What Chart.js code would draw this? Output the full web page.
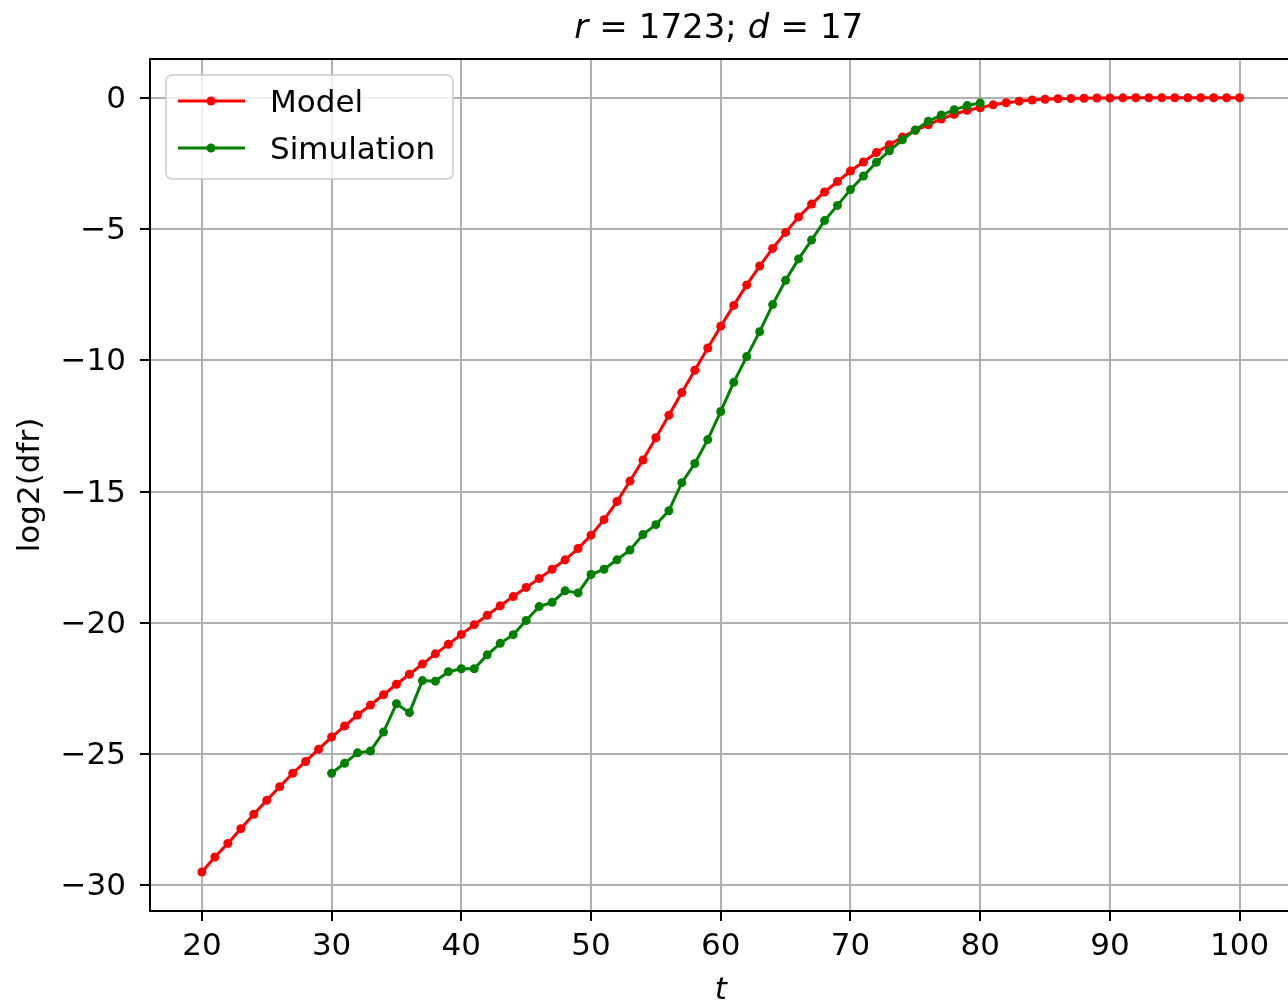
<!DOCTYPE html>
<html>
<head>
<meta charset="utf-8">
<title>log2(dfr) vs t</title>
<script src="https://cdn.jsdelivr.net/npm/chart.js@4.4.1/dist/chart.umd.min.js"></script>
<style>
  html, body { margin: 0; padding: 0; background: #fff; overflow: hidden; }
  canvas { display: block; }
</style>
</head>
<body>
<canvas id="dfrChart" width="1296" height="1006"></canvas>
<script>
// ---------- data ----------
const tModel = [20, 21, 22, 23, 24, 25, 26, 27, 28, 29,
                30, 31, 32, 33, 34, 35, 36, 37, 38, 39,
                40, 41, 42, 43, 44, 45, 46, 47, 48, 49,
                50, 51, 52, 53, 54, 55, 56, 57, 58, 59,
                60, 61, 62, 63, 64, 65, 66, 67, 68, 69,
                70, 71, 72, 73, 74, 75, 76, 77, 78, 79,
                80, 81, 82, 83, 84, 85, 86, 87, 88, 89,
                90, 91, 92, 93, 94, 95, 96, 97, 98, 99, 100];
const model = [-29.49, -28.92, -28.40, -27.84, -27.29, -26.76, -26.24, -25.73, -25.28, -24.81,
               -24.35, -23.93, -23.51, -23.13, -22.74, -22.34, -21.96, -21.57, -21.18, -20.82,
               -20.44, -20.07, -19.71, -19.35, -19.00, -18.65, -18.31, -17.96, -17.60, -17.17,
               -16.66, -16.07, -15.38, -14.60, -13.80, -12.95, -12.09, -11.23, -10.38, -9.53,
               -8.70, -7.91, -7.13, -6.41, -5.74, -5.13, -4.54, -4.05, -3.59, -3.19,
               -2.79, -2.45, -2.09, -1.79, -1.50, -1.24, -1.03, -0.81, -0.63, -0.48,
               -0.38, -0.27, -0.19, -0.13, -0.09, -0.06, -0.04, -0.03, -0.02, -0.01,
               -0.01, -0.005, 0, 0, 0, 0, 0, 0, 0, 0, 0];

const tSim = [30, 31, 32, 33, 34, 35, 36, 37, 38, 39,
              40, 41, 42, 43, 44, 45, 46, 47, 48, 49,
              50, 51, 52, 53, 54, 55, 56, 57, 58, 59,
              60, 61, 62, 63, 64, 65, 66, 67, 68, 69,
              70, 71, 72, 73, 74, 75, 76, 77, 78, 79, 80];
const sim = [-25.73, -25.35, -24.95, -24.88, -24.16, -23.08, -23.42, -22.20, -22.22, -21.86,
             -21.75, -21.75, -21.22, -20.78, -20.45, -19.91, -19.38, -19.22, -18.78, -18.86,
             -18.16, -17.96, -17.60, -17.23, -16.64, -16.26, -15.73, -14.66, -13.93, -13.02,
             -11.95, -10.84, -9.86, -8.91, -7.88, -6.95, -6.14, -5.42, -4.68, -4.10,
             -3.50, -2.98, -2.46, -2.02, -1.60, -1.23, -0.90, -0.66, -0.46, -0.30, -0.20];

const xTicks = [20, 30, 40, 50, 60, 70, 80, 90, 100];
const yTicks = [-30, -25, -20, -15, -10, -5, 0];

// title pieces, italic ones are the math variables
const titleParts = [
    { text: "r", italic: true },
    { text: "=", italic: false },
    { text: "1723;", italic: false },
    { text: "d", italic: true },
    { text: "=", italic: false },
    { text: "17", italic: false }
];

const FONT = "DejaVu Sans";
Chart.defaults.font.family = FONT;
Chart.defaults.color = "#000";

const toPoints = (xs, ys) => xs.map((x, i) => ({ x: x, y: ys[i] }));

// =========================
// PLUGINS
// =========================

// top + right spines (left/bottom come from the axis borders)
const frame = {
    id: "frame",
    afterDraw(chart) {
        const { ctx, chartArea: a } = chart;
        ctx.save();
        ctx.strokeStyle = "#000";
        ctx.lineWidth = 2;
        ctx.beginPath();
        ctx.moveTo(a.left - 1, a.top);
        ctx.lineTo(a.right, a.top);
        ctx.lineTo(a.right, a.bottom + 1);
        ctx.stroke();
        ctx.restore();
    }
};

// legend box in the upper-left corner of the plot
const legendBox = {
    id: "legendBox",
    afterDatasetsDraw(chart) {
        const { ctx, chartArea: a } = chart;
        const x0 = a.left + 16, y0 = a.top + 16;
        const w = 287, h = 104, r = 6;

        ctx.save();
        ctx.beginPath();
        ctx.roundRect(x0, y0, w, h, r);
        ctx.fillStyle = "rgba(255,255,255,0.8)";
        ctx.fill();
        ctx.strokeStyle = "rgba(204,204,204,0.8)";
        ctx.lineWidth = 2;
        ctx.stroke();

        chart.data.datasets.forEach((ds, i) => {
            const y = y0 + 26 + i * 47;
            ctx.strokeStyle = ds.borderColor;
            ctx.lineWidth = 3;
            ctx.beginPath();
            ctx.moveTo(x0 + 12, y);
            ctx.lineTo(x0 + 79, y);
            ctx.stroke();

            ctx.fillStyle = ds.borderColor;
            ctx.beginPath();
            ctx.arc(x0 + 45, y, 4.5, 0, Math.PI * 2);
            ctx.fill();

            // 'middle' sits a bit high for this font, nudge down
            ctx.fillStyle = "#000";
            ctx.font = "31px '" + FONT + "'";
            ctx.textBaseline = "middle";
            ctx.textAlign = "left";
            ctx.fillText(ds.label, x0 + 104, y + 3);
        });
        ctx.restore();
    }
};

// mathtext-like title: italic variables, spaced operators
const mathTitle = {
    id: "mathTitle",
    afterDraw(chart) {
        const { ctx, chartArea: a } = chart;
        const size = 34, gap = 11;
        ctx.save();
        ctx.fillStyle = "#000";
        ctx.textBaseline = "alphabetic";
        ctx.textAlign = "left";

        const fontOf = p => (p.italic ? "italic " : "") + size + "px '" + FONT + "'";
        const widths = titleParts.map(p => {
            ctx.font = fontOf(p);
            return ctx.measureText(p.text).width;
        });
        const total = widths.reduce((s, v) => s + v, 0) + gap * (titleParts.length - 1);

        let x = (a.left + a.right) / 2 - total / 2 - 2;
        titleParts.forEach((p, i) => {
            ctx.font = fontOf(p);
            ctx.fillText(p.text, x, 38);
            x += widths[i] + gap;
        });
        ctx.restore();
    }
};

// =========================
// CHART
// =========================
const gridOpts = {
    color: "#b0b0b0",
    lineWidth: 2,
    tickColor: "#000",
    tickWidth: 2,
    tickLength: 10
};
const borderOpts = { display: true, color: "#000", width: 2 };

const ctx = document.getElementById("dfrChart").getContext("2d");

new Chart(ctx, {
    type: "line",
    data: {
        datasets: [
            {
                label: "Model",
                data: toPoints(tModel, model),
                borderColor: "#ff0000",
                backgroundColor: "#ff0000",
                pointBackgroundColor: "#ff0000",
                borderWidth: 3,
                pointRadius: 4.5,
                pointBorderWidth: 0,
                tension: 0,
                order: 1
            },
            {
                label: "Simulation",
                data: toPoints(tSim, sim),
                borderColor: "#008000",
                backgroundColor: "#008000",
                pointBackgroundColor: "#008000",
                borderWidth: 3,
                pointRadius: 4.5,
                pointBorderWidth: 0,
                tension: 0,
                order: 0
            }
        ]
    },
    options: {
        responsive: false,
        animation: false,
        devicePixelRatio: 1,
        layout: { padding: { top: 59, right: 2, left: 0, bottom: 0 } },
        plugins: {
            legend: { display: false },
            title: { display: false },
            tooltip: { enabled: false }
        },
        scales: {
            x: {
                type: "linear",
                min: 16,
                max: 104,
                afterBuildTicks: s => { s.ticks = xTicks.map(v => ({ value: v })); },
                afterFit: s => { s.height = 95; },
                grid: gridOpts,
                border: borderOpts,
                ticks: {
                    font: { size: 31 },
                    color: "#000",
                    padding: 7,
                    maxRotation: 0,
                    autoSkip: false
                },
                title: {
                    display: true,
                    text: "t",
                    color: "#000",
                    font: { size: 31, style: "italic", lineHeight: 1 },
                    padding: 0
                }
            },
            y: {
                type: "linear",
                min: -30.975,
                max: 1.475,
                afterBuildTicks: s => { s.ticks = yTicks.map(v => ({ value: v })); },
                afterFit: s => { s.width = 150; },
                grid: gridOpts,
                border: borderOpts,
                ticks: {
                    font: { size: 31 },
                    color: "#000",
                    padding: 14,
                    labelOffset: 2,
                    autoSkip: false,
                    callback: v => (v < 0 ? "\u2212" + Math.abs(v) : String(v))
                },
                title: {
                    display: true,
                    text: "log2(dfr)",
                    color: "#000",
                    font: { size: 31, lineHeight: 1 },
                    padding: { top: 15.5, bottom: 0 }
                }
            }
        }
    },
    plugins: [frame, legendBox, mathTitle]
});
</script>
</body>
</html>
